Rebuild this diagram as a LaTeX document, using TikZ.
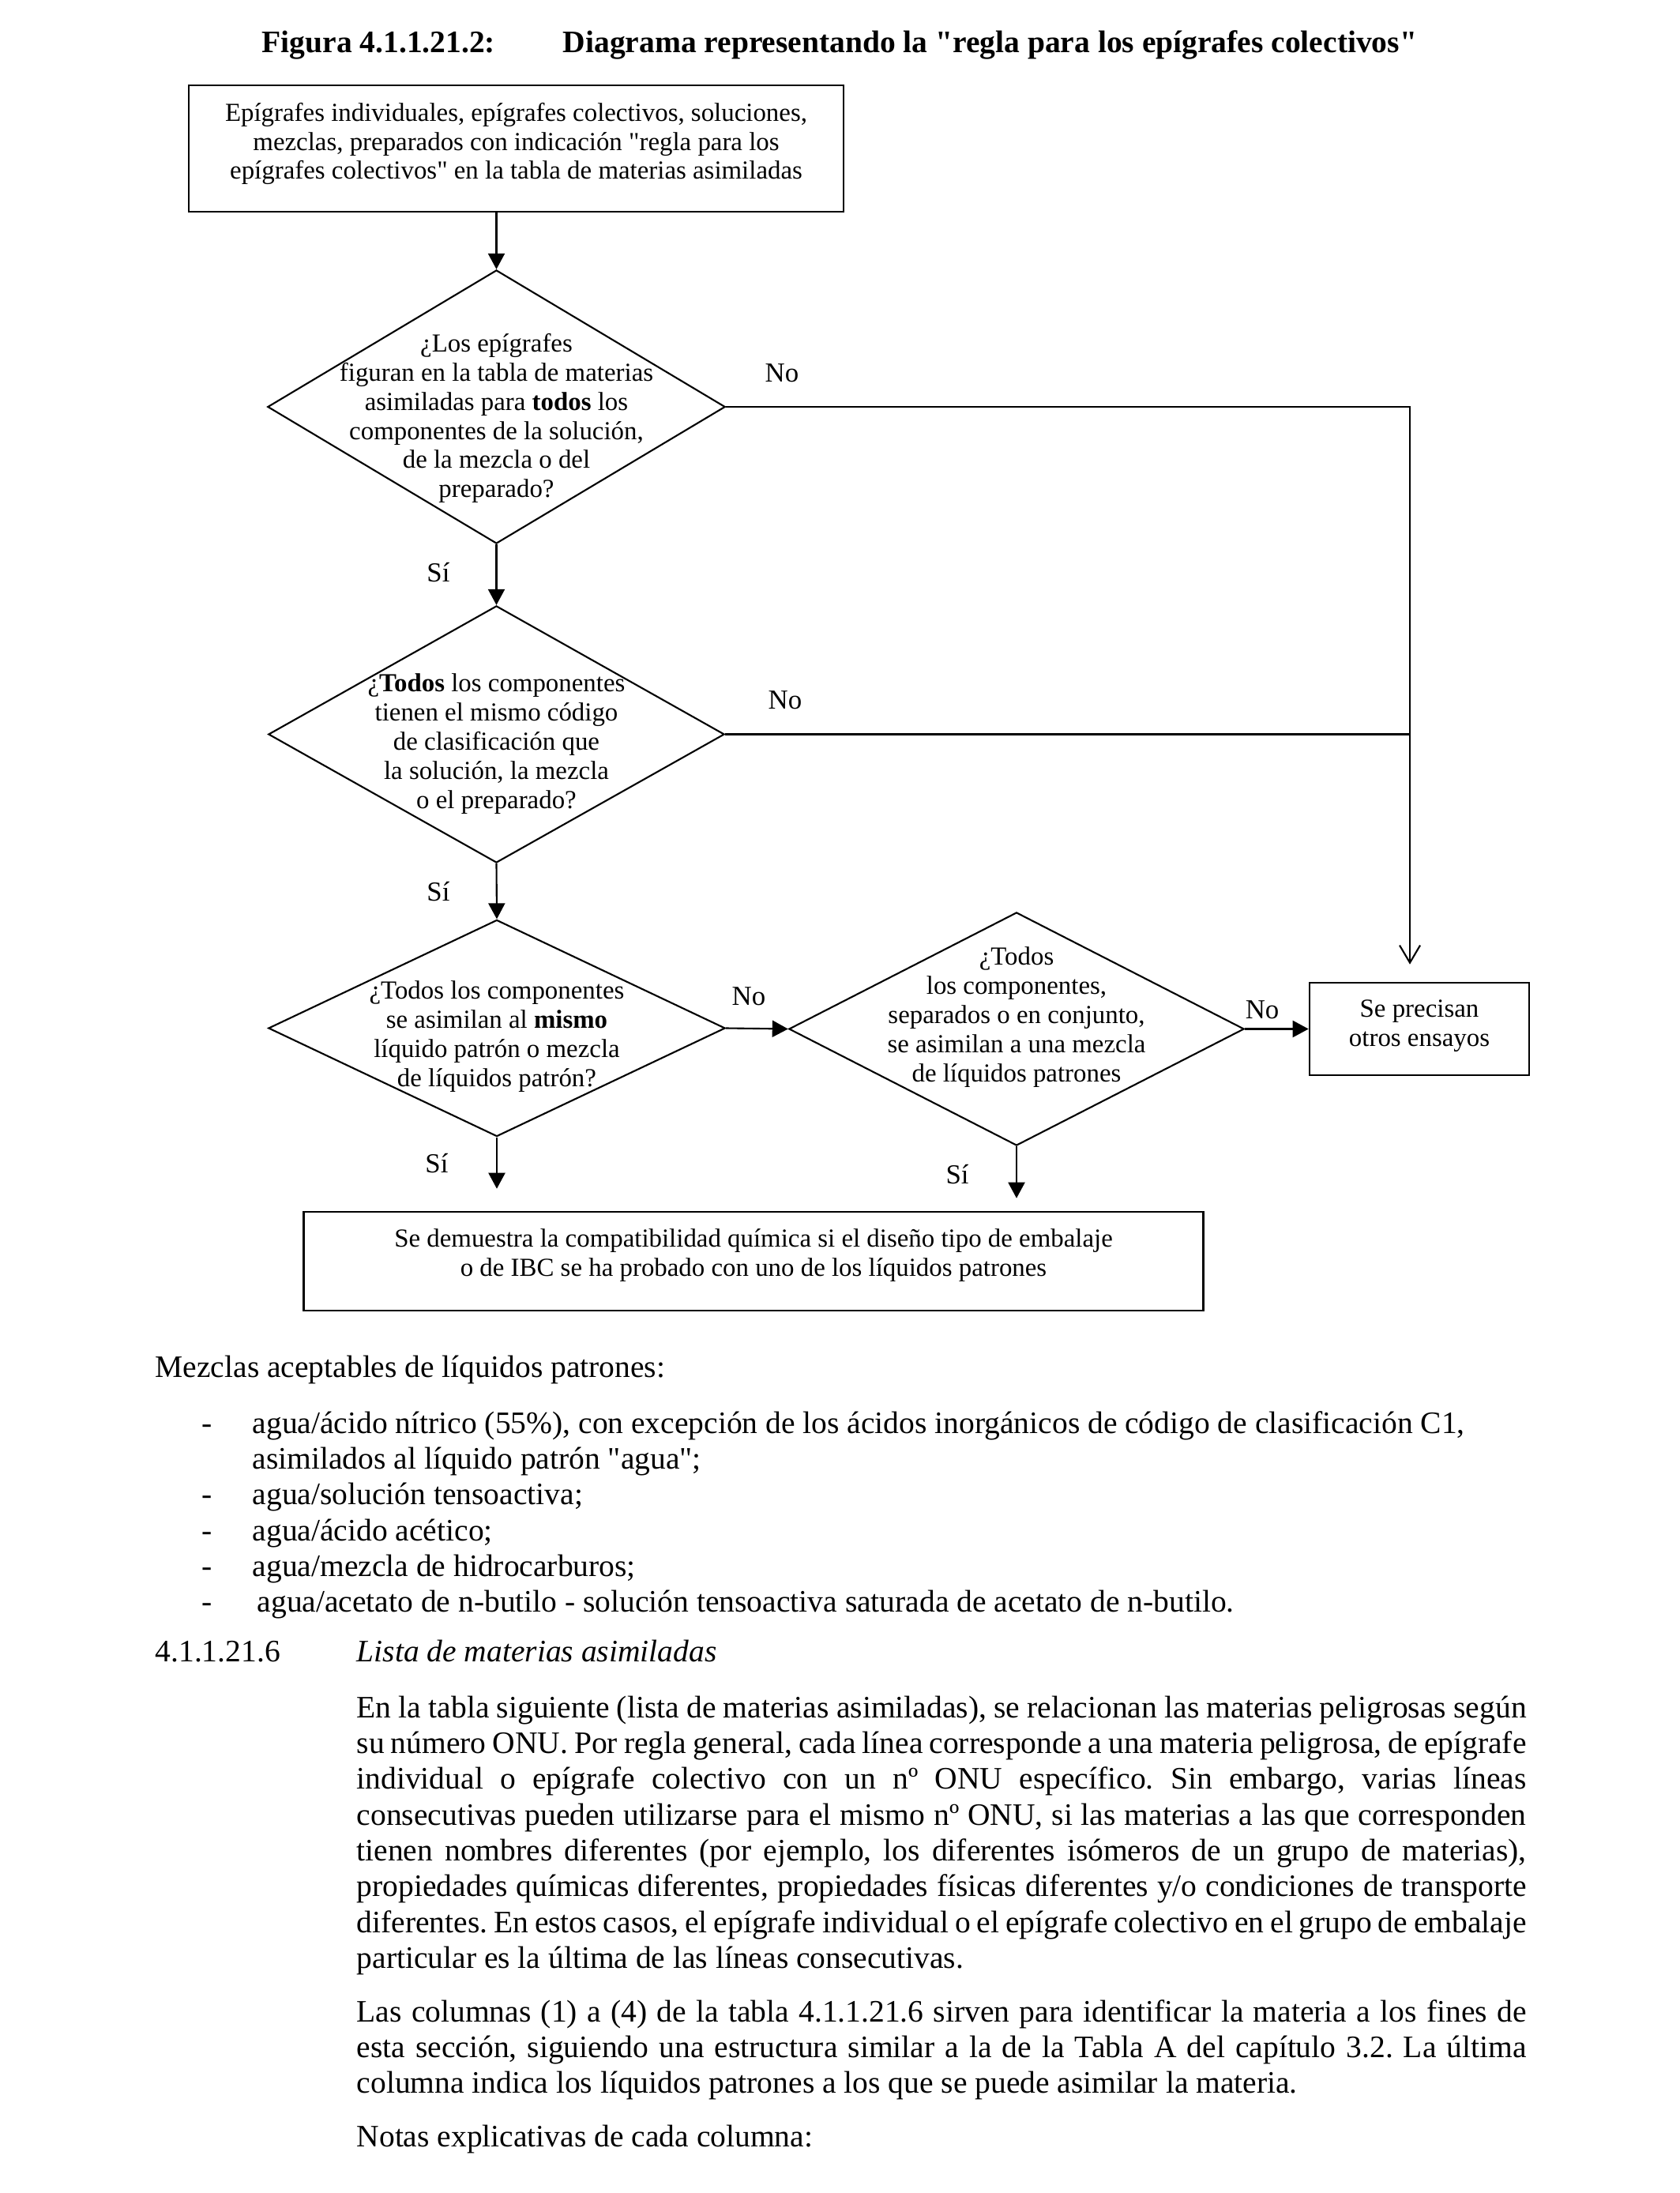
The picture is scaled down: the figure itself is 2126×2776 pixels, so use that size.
\documentclass[tikz,border=0pt]{standalone}
\usepackage{fontspec}
\setmainfont{Liberation Serif}[Ligatures=NoCommon]
\usetikzlibrary{arrows.meta,shapes.geometric,calc}
\newcommand\diagfont{\fontsize{9.35pt}{10.5pt}\selectfont\lineskiplimit=-20pt\relax}
\newcommand\labeltxt{\fontsize{9.9pt}{11pt}\selectfont}
\newcommand\bodytxt{\fontsize{11.24pt}{12.89pt}\selectfont\lineskiplimit=-20pt\relax}
\newcommand\titletxt{\fontsize{11.24pt}{13pt}\selectfont\bfseries}
\newcommand\jline[1]{\hbox to 14.8cm{#1}}
\newcommand\lline[1]{\hbox to 14.8cm{#1\hfil}}
\newcommand\dq{\XeTeXglyph\XeTeXcharglyph"22\relax}
\frenchspacing
\begin{document}
\begin{tikzpicture}[x=0.01cm,y=-0.01cm,
  box/.style={draw, line width=0.7pt, rectangle, inner sep=0pt},
  dia/.style={draw, line width=0.6pt, diamond, inner sep=0pt},
  conn/.style={line width=0.6pt},
  arr/.style={conn, -{Triangle[length=0.2cm,width=0.21cm]}},
  openarr/.style={conn, -{Straight Barb[length=0.22cm,width=0.26cm]}},
  dtext/.style={align=center, font=\diagfont, inner sep=0pt},
  lbl/.style={font=\labeltxt, inner sep=0pt},
  body/.style={anchor=base west, inner sep=0pt, font=\bodytxt}]
\path[fill=white] (0,0) rectangle (2126,2776);
\useasboundingbox (0,0) rectangle (2126,2776);

% title
\node[anchor=base west, inner sep=0pt, font=\titletxt] (fig) at (331,67) {Figura 4.1.1.21.2:};
\node[anchor=base west, inner sep=0pt, font=\titletxt] (figtitle) at (712,67) {Diagrama representando la \dq regla para los epígrafes colectivos\dq};

% boxes
\node[box, minimum width=8.29cm, minimum height=1.6cm] (b1) at (653.5,188) {};
\node[dtext] (b1t) at (653.5,182) {Epígrafes individuales, epígrafes colectivos, soluciones,\\mezclas, preparados con indicación \dq regla para los\\epígrafes colectivos\dq{} en la tabla de materias asimiladas};

\node[box, minimum width=2.78cm, minimum height=1.17cm] (sp) at (1797,1302.5) {};
\node[dtext] (spt) at (1797,1299) {Se precisan\\otros ensayos};

\node[box, minimum width=11.38cm, minimum height=1.25cm] (bb) at (954,1596.5) {};
\node[dtext] (bbt) at (954,1589) {Se demuestra la compatibilidad química si el diseño tipo de embalaje\\o de IBC se ha probado con uno de los líquidos patrones};

% diamonds
\node[dia, minimum width=5.79cm, minimum height=3.46cm] (d1) at (628.5,515) {};
\node[dtext] (d1t) at (628.5,529.5) {¿Los epígrafes\\figuran en la tabla de materias\\asimiladas para \textbf{todos} los\\componentes de la solución,\\de la mezcla o del\\preparado?};

\node[dia, minimum width=5.77cm, minimum height=3.25cm] (d2) at (628.5,929.5) {};
\node[dtext] (d2t) at (628.5,941.5) {¿\textbf{Todos} los componentes\\tienen el mismo código\\de clasificación que\\la solución, la mezcla\\o el preparado?};

\node[dia, minimum width=5.78cm, minimum height=2.74cm] (d3) at (629,1301.5) {};
\node[dtext] (d3t) at (629,1312) {¿Todos los componentes\\se asimilan al \textbf{mismo}\\líquido patrón o mezcla\\de líquidos patrón?};

\node[dia, minimum width=5.76cm, minimum height=2.95cm] (d4) at (1287,1302.5) {};
\node[dtext] (d4t) at (1287,1287.5) {¿Todos\\los componentes,\\separados o en conjunto,\\se asimilan a una mezcla\\de líquidos patrones};

% connectors
\coordinate (c1) at (1785,515);
\draw[arr] (b1.south -| d1.north) -- (d1.north);
\draw[arr] (d1.south) -- (d2.north);
\draw[arr] (d2.south) -- (d3.north);
\draw[arr] (d3.east) -- (d4.west);
\draw[arr] (d4.east) -- (sp.west);
\draw[openarr, shorten >=0.22cm] (d1.east) -- (c1) -- (c1 |- sp.north);
\draw[conn] (d2.east) -- (d2.east -| c1);
\draw[arr, shorten >=0.28cm] (d3.south) -- (d3.south |- bb.north);
\draw[arr, shorten >=0.16cm] (d4.south) -- (d4.south |- bb.north);

% labels
\node[lbl] (no1) at (990,472) {No};
\node[lbl] (si1) at (555,725) {Sí};
\node[lbl] (no2) at (994,886) {No};
\node[lbl] (si2) at (555,1129) {Sí};
\node[lbl] (no3) at (948,1261) {No};
\node[lbl] (si3) at (553,1473) {Sí};
\node[lbl] (no4) at (1598,1278) {No};
\node[lbl] (si4) at (1212,1487) {Sí};

% body text
\node[body] (mez) at (196,1743) {Mezclas aceptables de líquidos patrones:};
\node[body] (items) at (255,1814) {\vtop{\bodytxt
\hbox{\makebox[0.64cm][l]{-}agua/ácido nítrico (55\%), con excepción de los ácidos inorgánicos de código de clasificación C1,}
\hbox{\hspace{0.64cm}asimilados al líquido patrón \dq agua\dq;}
\hbox{\makebox[0.64cm][l]{-}agua/solución tensoactiva;}
\hbox{\makebox[0.64cm][l]{-}agua/ácido acético;}
\hbox{\makebox[0.64cm][l]{-}agua/mezcla de hidrocarburos;}
\hbox{\makebox[0.70cm][l]{-}agua/acetato de n-butilo - solución tensoactiva saturada de acetato de n-butilo.}
}};
\node[body] (sec) at (196,2103) {4.1.1.21.6};
\node[body] (sectitle) at (451,2103) {\textit{Lista de materias asimiladas}};
\node[body] (para1) at (451,2174) {\vtop{\bodytxt
\jline{En la tabla siguiente (lista de materias asimiladas), se relacionan las materias peligrosas según}
\jline{su número ONU. Por regla general, cada línea corresponde a una materia peligrosa, de epígrafe}
\jline{individual o epígrafe colectivo con un nº ONU específico. Sin embargo, varias líneas}
\jline{consecutivas pueden utilizarse para el mismo nº ONU, si las materias a las que corresponden}
\jline{tienen nombres diferentes (por ejemplo, los diferentes isómeros de un grupo de materias),}
\jline{propiedades químicas diferentes, propiedades físicas diferentes y/o condiciones de transporte}
\jline{diferentes. En estos casos, el epígrafe individual o el epígrafe colectivo en el grupo de embalaje}
\lline{particular es la última de las líneas consecutivas.}
}};
\node[body] (para2) at (451,2559) {\vtop{\bodytxt
\jline{Las columnas (1) a (4) de la tabla 4.1.1.21.6 sirven para identificar la materia a los fines de}
\jline{esta sección, siguiendo una estructura similar a la de la Tabla A del capítulo 3.2. La última}
\lline{columna indica los líquidos patrones a los que se puede asimilar la materia.}
}};
\node[body] (notas) at (451,2717) {Notas explicativas de cada columna:};
\end{tikzpicture}
\end{document}
